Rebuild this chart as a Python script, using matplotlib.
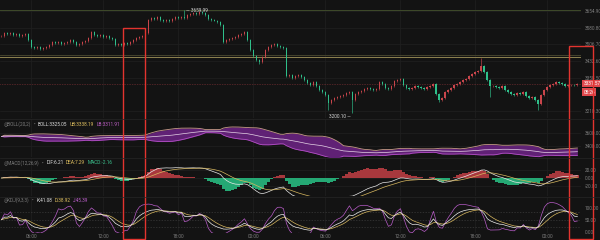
import numpy as np
import pandas as pd
import matplotlib
matplotlib.use("Agg")
import matplotlib.pyplot as plt
from matplotlib.patches import Rectangle
from matplotlib.transforms import blended_transform_factory

# ---------------- data ----------------
closes = [
    3543.9, 3557.3, 3552.8, 3557.3, 3548.4, 3552.8, 3543.9, 3548.4, 3552.8, 3526.0,
    3494.8, 3490.3, 3494.8, 3485.8, 3490.3, 3494.8, 3503.7, 3517.1, 3512.6, 3517.1,
    3508.2, 3512.6, 3517.1, 3526.0, 3517.1, 3503.7, 3508.2, 3517.1, 3521.6, 3535.0,
    3561.7, 3548.4, 3543.9, 3548.4, 3539.4, 3543.9, 3535.0, 3530.5, 3503.7, 3508.2,
    3503.7, 3512.6, 3508.2, 3517.1, 3526.0, 3535.0, 3539.4, 3543.9, 3557.3, 3615.3,
    3624.3, 3619.8, 3628.7, 3615.3, 3610.9, 3615.3, 3610.9, 3619.8, 3628.7, 3624.3,
    3628.7, 3624.3, 3637.7, 3642.1, 3646.6, 3642.1, 3651.1, 3646.0, 3637.7, 3619.8,
    3615.3, 3613.0, 3606.4, 3593.0, 3517.1, 3526.0, 3530.5, 3535.0, 3539.4, 3548.4,
    3552.8, 3561.7, 3526.0, 3481.4, 3454.6, 3436.7, 3427.8, 3450.1, 3481.4, 3494.8,
    3503.7, 3508.2, 3499.2, 3494.8, 3490.3, 3365.2, 3369.7, 3356.3, 3365.2, 3369.7,
    3360.8, 3347.4, 3334.0, 3325.0, 3338.4, 3320.6, 3302.7, 3293.8, 3280.4, 3244.7,
    3258.0, 3267.0, 3271.5, 3275.9, 3280.4, 3289.3, 3293.8, 3258.0, 3284.9, 3293.8,
    3298.3, 3307.2, 3311.7, 3307.2, 3302.7, 3307.2, 3338.4, 3329.5, 3311.7, 3307.2,
    3320.6, 3342.9, 3347.4, 3351.8, 3325.0, 3311.7, 3307.2, 3311.7, 3320.6, 3316.1,
    3311.7, 3307.2, 3316.1, 3320.6, 3329.5, 3284.9, 3258.0, 3267.0, 3293.8, 3302.7,
    3311.7, 3325.0, 3329.5, 3338.4, 3347.4, 3351.8, 3365.2, 3374.2, 3383.1, 3387.6,
    3409.9, 3383.1, 3347.4, 3320.6, 3320.6, 3316.1, 3311.7, 3320.6, 3302.7, 3293.8,
    3284.9, 3280.4, 3289.3, 3284.9, 3293.8, 3275.9, 3267.0, 3271.5, 3258.0, 3240.2,
    3280.4, 3302.7, 3316.1, 3325.0, 3329.5, 3338.4, 3334.0, 3329.5, 3320.6, 3325.0,
    3327.1, 3324.3, 3331.57,
]
spike_highs = {61: 3659.99, 81: 3566.0, 160: 3445.0}
spike_lows = {86: 3420.0, 109: 3215.0, 117: 3200.10, 146: 3250.0, 163: 3271.0, 179: 3213.0}
wick = 4.0

price_ticks = [3654.90, 3580.80, 3506.70, 3432.60, 3358.50, 3210.30]
level_lines = [3660.0, 3458.0, 3451.0]
time_pos = [10, 34, 59, 84, 108, 133, 158, 182]
time_labels = ["06:00", "12:00", "18:00", "00:00", "06:00", "12:00", "18:00", "00:00"]
boll_ticks = [3600, 3400]
macd_ticks = [20, 0, -20]
kdj_ticks = [100, 50, 0]
last_price = "3331.57"
countdown = "08:26"

boll_header = [("◎BOLL(20,2)", "#7c7c7c"), ("•", "#7c7c7c"), ("BOLL:3325.05", "#e0e0e0"),
               ("UB:3338.19", "#e0c060"), ("LB:3311.91", "#c060c8")]
macd_header = [("◎MACD(12,26,9)", "#7c7c7c"), ("•", "#7c7c7c"), ("DIF:6.21", "#e0e0e0"),
               ("DEA:7.29", "#e0c060"), ("MACD:-2.16", "#3cc48f")]
kdj_header = [("◎KDJ(9,3,3)", "#7c7c7c"), ("•", "#7c7c7c"), ("K:41.08", "#e0e0e0"),
              ("D:38.92", "#e0c060"), ("J:45.39", "#c060d0")]

# ---------------- style ----------------
BG = "#131313"
GRID = "#202020"
TXT = "#7c7c7c"
UP = "#c9454b"
DN = "#2fbf8a"
FS = 3.4
plt.rcParams["font.family"] = ["Roboto", "DejaVu Sans"]

n = len(closes)
x = np.arange(n)
c = np.array(closes)
o = np.concatenate([[c[0]], c[:-1]])
hi = np.maximum(o, c) + wick
lo = np.minimum(o, c) - wick
for k, v in spike_highs.items():
    hi[k] = v
for k, v in spike_lows.items():
    lo[k] = v

# indicators
s = pd.Series(c)
mid = s.rolling(20, min_periods=1).mean()
sd = s.rolling(20, min_periods=1).std(ddof=0)
ub = mid + 2 * sd
lb = mid - 2 * sd

ema12 = s.ewm(span=12, adjust=False).mean()
ema26 = s.ewm(span=26, adjust=False).mean()
dif = ema12 - ema26
dea = dif.ewm(span=9, adjust=False).mean()
hist = 2 * (dif - dea)

llv = pd.Series(lo).rolling(9, min_periods=1).min()
hhv = pd.Series(hi).rolling(9, min_periods=1).max()
rsv = ((s - llv) / (hhv - llv).replace(0, np.nan) * 100).fillna(50)
K = np.zeros(n); D = np.zeros(n)
kp, dp = 50.0, 50.0
for i in range(n):
    kp = 2 / 3 * kp + rsv[i] / 3
    dp = 2 / 3 * dp + kp / 3
    K[i], D[i] = kp, dp
J = 3 * K - 2 * D

# ---------------- figure ----------------
W, H = 600, 240
fig = plt.figure(figsize=(6, 2.4), dpi=100, facecolor=BG)
RIGHT = 581

def add_axes(top_px, bot_px):
    ax = fig.add_axes([0, 1 - bot_px / H, RIGHT / W, (bot_px - top_px) / H], facecolor=BG)
    for sp in ax.spines.values():
        sp.set_visible(False)
    ax.set_xlim(-0.5, 193.2)
    ax.yaxis.tick_right()
    ax.tick_params(axis="both", length=0, labelsize=FS, colors=TXT, pad=2.5)
    ax.set_xticks(time_pos)
    ax.set_xticklabels([])
    for t in time_pos:
        ax.axvline(t, color=GRID, lw=0.5, zorder=0)
    return ax

# main price
ax = add_axes(0, 118)
ax.set_ylim(3177.7, 3704.66)
ax.set_yticks(price_ticks)
ax.set_yticklabels([f"{v:.2f}" for v in price_ticks])
for v in price_ticks:
    ax.axhline(v, color=GRID, lw=0.5, zorder=0)
ax.axhline(level_lines[0], color="#3f4a2a", lw=0.7, zorder=1)
ax.axhline(level_lines[1], color="#4d4a30", lw=0.6, zorder=1)
ax.axhline(level_lines[2], color="#8f8350", lw=0.7, zorder=1)
cols = np.where(c >= o, UP, DN)
ax.vlines(x, lo, hi, colors=cols, lw=0.45, zorder=3)
ax.bar(x, np.maximum(np.abs(c - o), 1.5), bottom=np.minimum(o, c), width=0.62,
       color=cols, zorder=4, linewidth=0)
ih = max(spike_highs, key=spike_highs.get)
ax.annotate(f"— {spike_highs[ih]:.2f}", xy=(ih, spike_highs[ih]), xytext=(1, 0),
            textcoords="offset points", fontsize=FS, color="#d8d8d8", va="center", ha="left")
il = min(spike_lows, key=spike_lows.get)
ax.annotate(f"{spike_lows[il]:.2f} —", xy=(il, spike_lows[il]), xytext=(-1, -2.5),
            textcoords="offset points", fontsize=FS, color="#d8d8d8", va="center", ha="right")
tr = blended_transform_factory(ax.transAxes, ax.transData)
ax.axhline(c[-1], color=UP, lw=0.4, ls=(0, (1, 2)), zorder=2)
tag = dict(boxstyle="square,pad=0.3", fc="#e0474c", ec="none")
ax.text(1.004, c[-1], last_price, transform=tr, fontsize=FS, color="white", va="center",
        ha="left", bbox=tag, clip_on=False)
ax.text(1.004, c[-1] - 38, countdown, transform=tr, fontsize=FS, color="white",
        va="center", ha="left", bbox=tag, clip_on=False)

# BOLL
ab = add_axes(119, 157)
ab.set_ylim(3220, 3820)
ab.set_yticks(boll_ticks)
ab.set_yticklabels([f"{v:.2f}" for v in boll_ticks])
for v in boll_ticks:
    ab.axhline(v, color=GRID, lw=0.5, zorder=0)
ab.fill_between(x, lb, ub, color="#6e2487", alpha=0.85, lw=0, zorder=2)
ab.plot(x, ub, color="#c79a8a", lw=0.6, zorder=3)
ab.plot(x, lb, color="#b24fc4", lw=0.6, zorder=3)
ab.plot(x, mid, color="#e6d4e6", lw=0.5, zorder=3)

# MACD
am = add_axes(158, 196)
am.set_ylim(-45, 50)
am.set_yticks(macd_ticks)
am.set_yticklabels([f"{v:.2f}" for v in macd_ticks])
for v in macd_ticks:
    am.axhline(v, color=GRID, lw=0.5, zorder=0)
hc = np.where(hist >= 0, "#a8383d", "#25a874")
am.bar(x, hist, width=1.0, color=hc, linewidth=0, zorder=2)
am.plot(x, dif, color="#e8e8e8", lw=0.5, zorder=3)
am.plot(x, dea, color="#d8b860", lw=0.5, zorder=3)

# KDJ
ak = add_axes(197, 233)
ak.set_ylim(-6, 144.8)
ak.set_yticks(kdj_ticks)
ak.set_yticklabels([f"{v:.2f}" for v in kdj_ticks])
for v in (80, 50, 20):
    ak.axhline(v, color="#3a3a3a", lw=0.5, ls=(0, (2, 2)), zorder=0)
ak.plot(x, J, color="#b85cc8", lw=0.5, zorder=3)
ak.plot(x, D, color="#d8b860", lw=0.5, zorder=3)
ak.plot(x, K, color="#ececec", lw=0.5, zorder=3)
ak.set_xticklabels(time_labels)
ak.tick_params(axis="x", pad=1.0)

# panel separators
for ypx in (118.5, 157.5, 196.5):
    fig.add_artist(plt.Line2D([0, 1], [1 - ypx / H] * 2, color="#262626", lw=0.5))

# headers laid out left to right
renderer = fig.canvas.get_renderer()
def header(ypx, parts):
    xpx = 4.0
    for txt, col in parts:
        t = fig.text(xpx / W, 1 - ypx / H, txt, color=col, fontsize=FS, va="center", ha="left")
        xpx += t.get_window_extent(renderer).width + 2.5

header(124, boll_header)
header(163, macd_header)
header(200, kdj_header)

# red highlight boxes
for x0, y0, x1, y1 in [(123, 28, 145, 239), (569, 46, 593, 239)]:
    fig.add_artist(Rectangle((x0 / W, 1 - y1 / H), (x1 - x0) / W, (y1 - y0) / H,
                             fill=False, ec="#e3342f", lw=1.0, transform=fig.transFigure))

fig.savefig("out.png", dpi=100, facecolor=BG)
